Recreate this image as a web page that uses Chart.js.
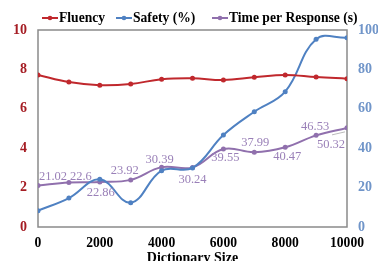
<!DOCTYPE html>
<html lang="en">
<head>
<meta charset="UTF-8">
<title>Dictionary Size</title>
<style>
  html, body { margin: 0; padding: 0; background: #fff; overflow: hidden; }
  #wrap { width: 378px; height: 270px; }
</style>
<script src="https://cdn.jsdelivr.net/npm/chart.js"></script>
</head>
<body>
<div id="wrap"><canvas id="chart" width="378" height="270"></canvas></div>
<script>
// values
const dictSizes = [0, 1000, 2000, 3000, 4000, 5000, 6000, 7000, 8000, 9000, 10000];
const fluency = [7.72, 7.36, 7.2, 7.26, 7.5, 7.55, 7.46, 7.6, 7.72, 7.61, 7.53];
const safety = [8.3, 14.7, 24.2, 12.3, 28.6, 30.0, 46.7, 58.5, 68.7, 95.3, 96.1];
const timePerResponse = [21.02, 22.6, 22.86, 23.92, 30.39, 30.24, 39.55, 37.99, 40.47, 46.53, 50.32];
const xTicks = [0, 2000, 4000, 6000, 8000, 10000];
const leftTicks = [0, 2, 4, 6, 8, 10];
const rightTicks = [0, 20, 40, 60, 80, 100];

const RED = '#c0282d';
const BLUE = '#4f81c2';
const PURPLE = '#9070ad';
const SERIF = "'Liberation Serif', 'Times New Roman', serif";

// where each time label sits relative to its point (dx, dy)
const labelOffsets = [[15, -9], [12, -6], [1, 11], [-6, -9], [-2, -7], [0, 12],
                      [2, 9], [1, -9], [2, 9], [-1, -9], [-16, 17]];

function pts(values) {
    return dictSizes.map((x, i) => ({ x: x, y: values[i] }));
}

// legend drawn by hand so line+marker sit tight against the text
const legendPlugin = {
    id: 'lineLegend',
    afterDraw(chart) {
        const ctx = chart.ctx;
        const starts = [42, 116, 212];
        ctx.save();
        ctx.font = 'bold 13.6px ' + SERIF;
        ctx.textBaseline = 'middle';
        chart.data.datasets.forEach((ds, i) => {
            const x = starts[i], y = 18;
            ctx.strokeStyle = ds.borderColor;
            ctx.lineWidth = 2;
            ctx.beginPath(); ctx.moveTo(x, y); ctx.lineTo(x + 16, y); ctx.stroke();
            ctx.fillStyle = ds.borderColor;
            ctx.beginPath(); ctx.arc(x + 8, y, 2.3, 0, Math.PI * 2); ctx.fill();
            ctx.fillStyle = '#000';
            ctx.fillText(ds.label, x + 17, y + 0.5);
        });
        ctx.restore();
    }
};

const frame = {
    id: 'frame',
    beforeDatasetsDraw(chart) {
        const a = chart.chartArea, ctx = chart.ctx;
        ctx.save();
        ctx.strokeStyle = '#8a8a8a';
        ctx.lineWidth = 1.5;
        ctx.strokeRect(a.left, a.top, a.right - a.left, a.bottom - a.top);
        ctx.restore();
    }
};

const timeLabels = {
    id: 'timeLabels',
    afterDatasetsDraw(chart) {
        const ctx = chart.ctx;
        const meta = chart.getDatasetMeta(2);
        ctx.save();
        ctx.font = '12.5px ' + SERIF;
        ctx.fillStyle = '#9a80b8';
        ctx.textAlign = 'center';
        ctx.textBaseline = 'middle';
        meta.data.forEach((p, i) => {
            const o = labelOffsets[i];
            ctx.fillText(timePerResponse[i].toString(), p.x + o[0], p.y + o[1]);
        });
        // leader line for the last label
        const last = meta.data[meta.data.length - 1];
        ctx.strokeStyle = '#a8a8a8';
        ctx.lineWidth = 0.8;
        ctx.beginPath();
        ctx.moveTo(last.x - 15, last.y + 7);
        ctx.lineTo(last.x - 2, last.y + 4);
        ctx.stroke();
        ctx.restore();
    }
};

new Chart(document.getElementById('chart'), {
    type: 'line',
    data: {
        datasets: [
            { label: 'Fluency', data: pts(fluency), yAxisID: 'y',
              borderColor: RED, backgroundColor: RED },
            { label: 'Safety (%)', data: pts(safety), yAxisID: 'y1',
              borderColor: BLUE, backgroundColor: BLUE },
            { label: 'Time per Response (s)', data: pts(timePerResponse), yAxisID: 'y1',
              borderColor: PURPLE, backgroundColor: PURPLE }
        ]
    },
    options: {
        responsive: false,
        animation: false,
        layout: { padding: { top: 30, left: 0, right: 0, bottom: 0 } },
        elements: {
            line: { borderWidth: 2, tension: 0.4 },
            point: { radius: 2.5, hoverRadius: 2.5, borderWidth: 0 }
        },
        plugins: { legend: { display: false }, tooltip: { enabled: false } },
        scales: {
            x: {
                type: 'linear', min: 0, max: 10000,
                grid: { display: false, drawTicks: false },
                border: { display: false },
                afterBuildTicks: s => { s.ticks = xTicks.map(v => ({ value: v })); },
                ticks: { color: '#000', padding: 8, maxRotation: 0,
                         font: { family: SERIF, size: 13.6, weight: 'bold' },
                         callback: v => v },
                title: { display: true, text: 'Dictionary Size', color: '#000',
                         padding: { top: 0, bottom: 3 },
                         font: { family: SERIF, size: 14, weight: 'bold' } },
                afterFit: s => { s.height = 43; }
            },
            y: {
                position: 'left', min: 0, max: 10,
                grid: { display: false, drawTicks: false },
                border: { display: false },
                afterBuildTicks: s => { s.ticks = leftTicks.map(v => ({ value: v })); },
                ticks: { color: '#a51d24', padding: 11,
                         font: { family: SERIF, size: 14, weight: 'bold' } },
                afterFit: s => { s.width = 38; }
            },
            y1: {
                position: 'right', min: 0, max: 100,
                grid: { display: false, drawTicks: false },
                border: { display: false },
                afterBuildTicks: s => { s.ticks = rightTicks.map(v => ({ value: v })); },
                ticks: { color: '#7095c9', padding: 11,
                         font: { family: SERIF, size: 14, weight: 'bold' } },
                afterFit: s => { s.width = 31; }
            }
        }
    },
    plugins: [frame, timeLabels, legendPlugin]
});
</script>
</body>
</html>
